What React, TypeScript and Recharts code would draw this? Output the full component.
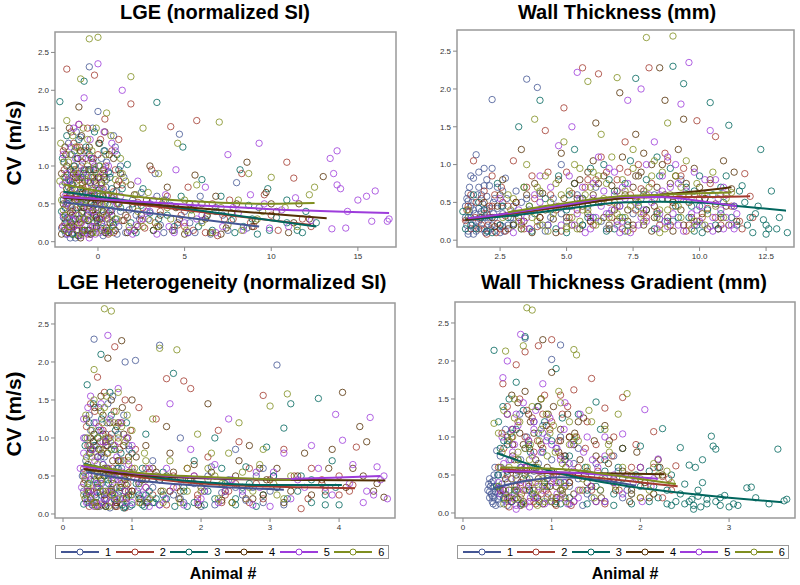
import React from 'react';
import { ComposedChart, Scatter, XAxis, YAxis, ReferenceArea } from 'recharts';

type Pt = [number, number];

// SAS HTMLBlue group colours, animal 1..6
const COLORS = ['#445694', '#A23A2E', '#01665E', '#543005', '#9D3CDB', '#7F8E1F'];
const animals = ['1', '2', '3', '4', '5', '6'];

const yTicks = [0, 0.5, 1, 1.5, 2, 2.5];
const lgeTicks = [0, 5, 10, 15];
const wtTicks = [2.5, 5, 7.5, 10, 12.5];
const hetTicks = [0, 1, 2, 3, 4];
const gradTicks = [0, 1, 2, 3];

// ---- LGE (normalized SI) ----
const lge1: Pt[] = [[-2.1,0.18],[-1.9,0.45],[-1.7,0.82],[-1.5,1.15],[-1.4,0.3],[-1.2,0.62],[-1.0,1.38],[-0.9,0.12],[-0.7,0.95],[-0.5,2.31],[-0.4,0.52],[-0.2,0.25],[0,1.72],[0.1,0.7],[0.3,0.08],[0.5,1.05],[0.6,0.38],[0.8,0.58],[1.0,1.25],[1.2,0.2],[1.5,0.85],[1.8,0.42],[2.1,0.15],[2.5,0.65],[2.9,0.3],[3.3,0.9],[3.8,0.12],[4.2,0.48],[4.7,1.42],[5.3,0.25],[5.9,0.6],[6.5,0.1],[7.2,0.35],[8.0,0.78],[8.6,0.18],[9.3,0.45],[-1.8,0.25],[-1.6,0.6],[-1.1,0.9],[-0.6,0.15],[-0.3,0.68],[0.2,0.42],[0.7,0.9],[1.1,0.1],[-1.3,0.05],[0.4,1.2]];
const lge2: Pt[] = [[-2.0,0.62],[-1.8,2.28],[-1.6,0.2],[-1.4,1.0],[-1.3,0.42],[-1.1,1.55],[-0.9,0.75],[-0.8,0.15],[-0.6,1.2],[-0.4,0.5],[-0.2,2.2],[-0.1,0.9],[0.2,0.3],[0.4,1.62],[0.6,0.1],[0.9,0.66],[1.2,1.35],[1.4,0.28],[1.9,1.82],[2.3,0.52],[2.7,0.18],[3.1,0.95],[3.6,0.4],[4.2,1.52],[4.6,0.22],[5.2,0.72],[5.7,1.6],[6.3,0.34],[6.9,0.08],[7.6,0.55],[8.3,0.9],[8.8,0.25],[9.6,0.62],[10.4,0.15],[10.9,1.05],[11.3,0.84],[11.8,0.3],[12.3,0.2],[-1.9,0.35],[-1.5,0.78],[-1.0,0.25],[-0.5,0.95],[0,0.55],[0.5,0.35],[1.0,0.95],[-1.2,1.25],[-0.7,0.5],[0.3,0.7]];
const lge3: Pt[] = [[-2.2,1.85],[-1.9,0.3],[-1.7,0.72],[-1.5,0.1],[-1.2,1.1],[-1.0,0.5],[-0.8,2.12],[-0.6,0.35],[-0.3,0.85],[-0.1,0.18],[0.1,1.3],[0.3,0.6],[0.6,0.92],[0.9,0.22],[1.3,0.45],[1.7,1.02],[2.2,0.12],[2.6,0.7],[3.0,0.38],[3.4,1.84],[3.9,0.55],[4.4,0.2],[4.9,1.25],[5.4,0.42],[6.0,0.82],[6.6,0.15],[7.1,0.6],[7.7,0.28],[8.2,0.95],[8.7,0.48],[9.2,0.1],[9.8,0.7],[10.3,0.32],[10.9,0.55],[11.5,0.15],[12.0,0.4],[12.6,0.25],[-2.0,0.55],[-1.6,0.95],[-1.3,0.3],[-0.9,0.65],[-0.5,1.15],[0,0.42],[0.4,0.12],[0.8,0.7],[1.1,1.15],[-0.2,0.6]];
const lge4: Pt[] = [[-2.1,0.1],[-1.9,1.25],[-1.7,0.55],[-1.5,0.22],[-1.3,0.85],[-1.1,1.78],[-0.9,0.4],[-0.7,0.65],[-0.5,0.15],[-0.3,1.05],[-0.1,0.32],[0.2,0.78],[0.4,1.45],[0.7,0.25],[1.0,0.55],[1.3,0.9],[1.7,0.12],[2.1,0.62],[2.5,0.35],[3.0,1.0],[3.5,0.2],[4.0,0.72],[4.5,0.45],[5.0,0.1],[5.6,0.88],[6.2,0.3],[6.8,0.6],[7.4,0.18],[8.0,0.5],[8.6,1.05],[9.1,0.28],[9.7,0.65],[10.3,0.4],[11.0,0.12],[11.6,0.5],[12.2,0.3],[13.0,0.86],[-1.8,0.7],[-1.6,0.38],[-1.2,0.15],[-0.8,0.95],[-0.4,0.5],[0,0.85],[0.5,0.18],[0.9,1.1],[-1.0,1.2],[0.3,0.4]];
const lge5: Pt[] = [[-2.0,0.35],[-1.8,0.9],[-1.6,0.15],[-1.4,1.5],[-1.2,0.6],[-1.0,0.08],[-0.8,1.9],[-0.6,0.45],[-0.4,1.1],[-0.2,0.2],[0,2.35],[0.2,0.7],[0.5,0.3],[0.8,1.3],[1.1,0.5],[1.4,2.0],[1.8,0.15],[2.3,0.8],[2.8,0.4],[3.4,0.1],[3.9,0.62],[4.5,0.95],[5.0,0.25],[5.6,0.5],[6.2,0.72],[6.8,0.12],[7.5,1.15],[8.1,0.38],[8.8,0.62],[9.3,1.3],[9.9,0.18],[10.6,0.42],[11.4,0.58],[12.3,0.28],[13.4,1.1],[13.6,0.9],[13.8,0.75],[13.5,0.17],[14.0,0.7],[14.3,0.18],[14.4,0.4],[15.0,0.55],[15.5,0.6],[15.8,0.27],[16.0,0.67],[16.8,0.3],[16.7,0.27],[13.8,1.2],[-1.9,0.6],[-1.5,0.28],[-1.1,0.85],[-0.7,0.3],[-0.3,0.62],[0.1,0.12],[0.4,0.95],[0.9,0.55],[-1.3,1.1],[-0.1,0.45]];
const lge6: Pt[] = [[-2.2,0.8],[-2.0,0.42],[-1.8,1.6],[-1.6,0.25],[-1.4,0.95],[-1.2,0.55],[-1.0,2.15],[-0.8,0.3],[-0.6,1.35],[-0.5,2.68],[-0.3,0.7],[-0.1,0.12],[0.0,2.7],[0.1,1.0],[0.3,0.48],[0.5,1.7],[0.8,0.2],[1.0,0.82],[1.3,1.1],[1.6,0.35],[1.9,2.18],[2.2,0.62],[2.6,1.5],[3.0,0.28],[3.5,0.9],[4.0,0.45],[4.6,1.3],[5.1,0.15],[5.7,0.75],[6.4,0.4],[7.0,1.58],[7.5,0.22],[8.1,0.55],[8.7,0.9],[9.2,0.3],[10.0,0.85],[10.8,0.45],[11.5,0.2],[12.2,0.62],[12.5,0.72],[-1.9,0.15],[-1.5,0.7],[-1.1,0.35],[-0.7,0.9],[-0.4,0.45],[0.2,0.75],[0.6,0.3],[1.2,0.5],[-1.3,1.25],[0.4,0.15]];
// the dense low-CV cloud
const lgeDense1: Pt[] = [[-2.0,0.32],[-1.9,0.78],[-1.85,0.1],[-1.75,0.5],[-1.65,0.2],[-1.55,0.92],[-1.45,0.42],[-1.35,0.7],[-1.25,0.15],[-1.15,0.55],[-1.05,0.3],[-0.95,1.0],[-0.85,0.45],[-0.75,0.22],[-0.65,0.62],[-0.55,0.8],[-0.45,0.1],[-0.35,0.38],[-0.25,1.1],[-0.15,0.5],[-0.05,0.28],[0.05,0.85],[0.15,0.18],[0.25,0.6],[0.35,0.35],[0.45,0.72],[0.55,0.14],[0.65,0.48],[0.85,0.26],[1.05,0.66],[1.3,0.4],[1.6,0.12],[2.0,0.55],[2.4,0.3],[3.0,0.5],[3.6,0.22],[4.4,0.15],[5.0,0.4],[6.0,0.28],[7.5,0.15]];
const lgeDense2: Pt[] = [[-2.05,0.2],[-1.95,0.95],[-1.8,0.48],[-1.7,0.12],[-1.6,0.68],[-1.5,0.35],[-1.4,1.3],[-1.3,0.58],[-1.2,0.22],[-1.1,0.82],[-1.0,0.45],[-0.9,1.05],[-0.8,0.3],[-0.7,0.72],[-0.6,0.1],[-0.5,0.4],[-0.4,0.85],[-0.3,0.2],[-0.2,0.62],[-0.1,0.35],[0.0,1.15],[0.1,0.52],[0.2,0.15],[0.35,0.9],[0.5,0.6],[0.7,0.4],[0.9,0.12],[1.1,0.5],[1.4,0.75],[1.7,0.32],[2.1,0.15],[2.6,0.45],[3.3,0.25],[4.0,0.6],[4.8,0.35],[5.5,0.15],[6.6,0.5],[7.8,0.3],[9.0,0.2],[10.0,0.35]];
const lgeDense3: Pt[] = [[-2.1,0.4],[-1.95,0.15],[-1.85,0.85],[-1.75,0.32],[-1.65,0.58],[-1.55,0.25],[-1.45,0.75],[-1.35,1.2],[-1.25,0.45],[-1.15,0.08],[-1.05,0.65],[-0.95,0.38],[-0.85,0.9],[-0.75,0.15],[-0.65,0.55],[-0.55,0.28],[-0.45,0.78],[-0.35,0.12],[-0.25,0.48],[-0.15,0.95],[-0.05,0.3],[0.05,0.68],[0.2,0.25],[0.4,0.5],[0.6,0.15],[0.8,0.42],[1.0,0.3],[1.4,0.7],[1.9,0.25],[2.5,0.48],[3.2,0.15],[4.0,0.35],[4.8,0.6],[5.8,0.2],[6.8,0.4],[7.9,0.12],[8.9,0.3],[9.9,0.15],[10.9,0.25],[11.8,0.12]];
const lgeDense4: Pt[] = [[-2.0,0.5],[-1.9,0.25],[-1.8,1.0],[-1.7,0.12],[-1.6,0.62],[-1.5,0.4],[-1.4,0.2],[-1.3,0.55],[-1.2,0.85],[-1.1,0.3],[-1.0,0.7],[-0.9,0.15],[-0.8,0.45],[-0.7,1.1],[-0.6,0.28],[-0.5,0.6],[-0.4,0.1],[-0.3,0.42],[-0.2,0.8],[-0.1,0.2],[0.0,0.55],[0.1,0.3],[0.3,0.95],[0.45,0.12],[0.6,0.62],[0.8,0.35],[1.0,0.15],[1.2,0.5],[1.5,0.28],[1.9,0.75],[2.3,0.2],[2.8,0.55],[3.6,0.35],[4.3,0.15],[5.3,0.5],[6.5,0.12],[7.7,0.38],[8.9,0.2],[10.0,0.5],[11.3,0.25]];
const lgeDense5: Pt[] = [[-2.05,0.75],[-1.95,0.2],[-1.85,0.5],[-1.75,0.1],[-1.65,0.8],[-1.55,0.45],[-1.45,0.18],[-1.35,0.7],[-1.25,0.35],[-1.15,0.15],[-1.05,0.55],[-0.95,0.25],[-0.85,0.95],[-0.75,0.12],[-0.65,0.6],[-0.55,0.35],[-0.45,0.78],[-0.35,0.2],[-0.25,0.4],[-0.15,0.1],[-0.05,0.7],[0.05,0.3],[0.15,0.5],[0.3,0.2],[0.45,0.62],[0.6,0.12],[0.75,0.4],[1.0,0.25],[1.3,0.6],[1.6,0.35],[2.0,0.1],[2.6,0.3],[3.2,0.55],[4.1,0.2],[5.2,0.12],[6.0,0.35],[7.2,0.2],[8.4,0.15],[9.6,0.5],[11.0,0.2]];
const lgeDense6: Pt[] = [[-2.1,0.55],[-2.0,1.05],[-1.9,0.35],[-1.8,0.7],[-1.7,0.2],[-1.6,1.15],[-1.5,0.45],[-1.4,0.1],[-1.3,0.62],[-1.2,0.9],[-1.1,0.25],[-1.0,0.5],[-0.9,0.78],[-0.8,0.15],[-0.7,0.55],[-0.6,1.0],[-0.5,0.3],[-0.4,0.65],[-0.3,0.12],[-0.2,0.85],[-0.1,0.45],[0.0,0.25],[0.1,0.6],[0.25,0.38],[0.4,0.8],[0.55,0.5],[0.7,0.12],[0.9,0.6],[1.1,0.3],[1.4,0.9],[1.8,0.2],[2.3,0.4],[2.9,0.65],[3.4,0.2],[4.2,0.3],[5.0,0.55],[6.0,0.25],[7.1,0.45],[8.3,0.15],[9.5,0.4]];
// the upper part of the cloud (CV 0.7 - 1.6)
const lgeBand1: Pt[] = [[-1.95,1.05],[-1.7,1.3],[-1.5,0.75],[-1.25,1.45],[-1.0,0.85],[-0.8,1.2],[-0.55,0.95],[-0.3,1.5],[-0.1,0.78],[0.2,1.1],[0.5,0.82],[0.9,1.4],[1.3,1.0],[2.2,0.35],[3.4,0.6],[4.6,0.25],[5.6,0.12],[6.8,0.45],[-1.6,0.05],[-0.9,0.55]];
const lgeBand2: Pt[] = [[-2.0,1.2],[-1.75,0.88],[-1.55,1.45],[-1.3,0.95],[-1.05,1.25],[-0.85,0.7],[-0.6,1.5],[-0.35,1.1],[-0.15,0.75],[0.15,1.35],[0.45,1.0],[0.8,1.2],[1.2,0.8],[2.5,0.28],[3.7,0.5],[5.0,0.2],[6.2,0.12],[7.3,0.3],[-1.1,0.08],[-0.35,0.6]];
const lgeBand3: Pt[] = [[-2.05,1.1],[-1.8,1.4],[-1.6,0.8],[-1.35,1.0],[-1.1,1.35],[-0.9,0.85],[-0.7,1.25],[-0.45,0.95],[-0.2,1.45],[0.05,1.0],[0.35,1.2],[0.7,0.85],[1.2,0.95],[2.0,0.5],[3.5,0.3],[5.2,0.12],[6.3,0.35],[8.4,0.2],[-1.45,0.1],[-0.6,0.58]];
const lgeBand4: Pt[] = [[-2.1,0.9],[-1.85,1.15],[-1.65,1.5],[-1.4,0.9],[-1.15,1.1],[-0.95,1.4],[-0.75,0.8],[-0.5,1.25],[-0.25,0.95],[0.05,1.3],[0.35,0.85],[0.65,1.15],[1.1,0.75],[2.0,0.45],[3.2,0.15],[4.7,0.3],[6.0,0.5],[7.1,0.1],[-1.0,0.05],[-0.2,0.35]];
const lgeBand5: Pt[] = [[-2.0,1.15],[-1.8,0.8],[-1.55,1.25],[-1.3,0.9],[-1.1,1.55],[-0.9,1.1],[-0.65,0.85],[-0.45,1.35],[-0.2,1.0],[0.1,0.85],[0.35,1.45],[0.6,1.0],[1.0,1.2],[2.2,0.22],[3.0,0.4],[4.4,0.12],[5.7,0.3],[7.8,0.45],[-1.7,0.3],[-0.5,0.05]];
const lgeBand6: Pt[] = [[-2.15,1.3],[-1.95,0.85],[-1.7,1.05],[-1.45,1.4],[-1.25,0.8],[-1.05,1.2],[-0.85,1.5],[-0.6,0.8],[-0.35,1.2],[-0.1,1.5],[0.15,0.9],[0.45,1.15],[0.75,1.4],[1.6,0.8],[2.6,0.2],[3.8,0.55],[5.4,0.35],[6.6,0.12],[-0.95,0.1],[0.3,0.6]];
const lgeFit1: Pt[] = [[-2,0.52],[9.3,0.2]];
const lgeFit2: Pt[] = [[-2,0.61],[12.3,0.22]];
const lgeFit3: Pt[] = [[-2,0.66],[12.6,0.2]];
const lgeFit4: Pt[] = [[-2,0.58],[13.2,0.31]];
const lgeFit5: Pt[] = [[-2,0.59],[5,0.49],[10,0.43],[16.8,0.38]];
const lgeFit6: Pt[] = [[-2,0.76],[2,0.6],[5,0.54],[10,0.5],[12.5,0.51]];

// ---- Wall Thickness (mm) ----
const wt1: Pt[] = [[1.2,0.45],[1.3,0.12],[1.3,0.52],[1.4,0.3],[1.5,0.08],[1.6,1.13],[1.7,0.25],[1.8,0.6],[1.9,0.15],[1.9,0.95],[2.0,0.4],[2.1,0.72],[2.2,1.86],[2.2,0.2],[2.3,0.55],[2.5,0.1],[2.6,0.35],[2.7,0.82],[3.0,0.22],[3.3,0.5],[3.5,2.13],[3.6,0.15],[3.9,2.02],[4.0,0.62],[4.4,0.3],[4.8,1.0],[5.2,0.45],[5.6,0.2],[6.1,0.7],[6.6,0.35],[7.2,0.12],[7.8,0.55],[8.5,0.28],[9.3,0.8],[10.1,0.2],[1.25,0.2],[1.35,0.38],[1.45,0.5],[1.55,0.16],[1.7,0.42],[1.95,0.3],[2.05,0.12],[2.25,0.35],[2.6,0.18]];
const wt2: Pt[] = [[1.2,0.26],[1.4,0.6],[1.5,1.05],[1.7,0.15],[1.9,0.35],[2.0,0.08],[2.2,0.85],[2.4,0.22],[2.6,0.5],[2.7,0.12],[3.0,1.05],[3.2,0.3],[3.5,0.7],[3.9,0.18],[4.2,1.45],[4.6,0.4],[4.9,1.75],[5.2,0.62],[5.6,2.28],[5.9,0.25],[6.2,2.2],[6.5,0.9],[6.9,0.45],[7.2,1.3],[7.5,0.15],[7.8,0.68],[8.1,2.28],[8.4,0.38],[8.8,1.05],[9.2,0.55],[9.6,0.2],[9.9,1.58],[10.3,0.42],[10.6,1.37],[11.0,0.6],[11.5,0.25],[11.9,0.58],[11.7,0.88],[1.8,0.2],[2.1,0.45],[2.5,0.15],[5.8,0.8],[7.0,0.95],[8.0,0.3]];
const wt3: Pt[] = [[1.1,0.38],[1.4,0.2],[1.7,0.5],[2.0,0.12],[2.4,0.75],[2.8,0.3],[3.2,1.5],[3.6,0.45],[4.0,1.85],[4.3,0.2],[4.7,0.85],[5.0,0.1],[5.3,1.2],[5.6,0.55],[6.0,0.3],[6.4,1.0],[6.8,0.15],[7.2,0.75],[7.6,2.14],[8.0,0.4],[8.4,1.1],[8.8,0.25],[9.0,2.3],[9.4,2.07],[9.8,0.65],[10.1,0.1],[10.4,1.82],[10.8,0.35],[11.1,1.52],[11.4,0.2],[11.7,0.5],[12.0,0.1],[12.3,1.2],[12.4,0.27],[12.5,0.08],[12.7,0.65],[12.9,0.15],[13.3,0.1],[11.6,0.72],[12.1,0.35],[10.0,0.45],[10.6,0.2],[11.0,0.85],[9.6,0.3]];
const wt4: Pt[] = [[1.9,0.5],[2.3,0.18],[2.6,0.8],[3.0,0.35],[3.3,1.2],[3.7,0.1],[4.1,0.62],[4.5,0.28],[4.8,1.15],[5.1,0.45],[5.5,0.15],[5.8,0.9],[6.1,1.55],[6.4,0.3],[6.7,0.72],[7.0,1.95],[7.3,0.4],[7.6,1.4],[7.9,0.2],[8.2,1.0],[8.5,2.28],[8.8,0.55],[9.1,0.85],[9.4,1.6],[9.7,0.3],[10.0,0.7],[10.3,0.15],[10.6,0.48],[10.9,1.05],[11.2,0.68],[11.4,0.25],[8.7,1.85],[6.0,0.6],[6.9,0.25],[7.7,0.85],[8.3,0.45],[5.3,0.75],[9.0,0.12]];
const wt5: Pt[] = [[2.5,0.55],[3.0,0.1],[3.5,0.3],[4.0,0.85],[4.3,0.2],[4.7,1.25],[5.0,0.45],[5.2,1.5],[5.4,2.22],[5.6,0.7],[5.9,0.15],[6.2,1.1],[6.5,0.35],[6.8,0.9],[7.0,0.1],[7.3,1.85],[7.6,0.5],[7.8,2.0],[8.0,0.25],[8.3,1.3],[8.5,0.6],[8.8,0.18],[9.1,1.0],[9.3,1.8],[9.6,2.35],[9.9,0.4],[10.2,0.8],[10.5,0.12],[10.7,0.55],[11.0,0.3],[11.3,0.45],[10.4,1.45],[9.5,0.65],[6.0,0.55],[6.6,0.2],[7.1,0.7],[7.9,0.4],[8.6,0.85],[9.8,0.2],[10.9,0.15]];
const wt6: Pt[] = [[1.3,0.4],[2.8,0.6],[3.2,0.25],[3.5,1.0],[3.8,1.6],[4.0,0.4],[4.3,0.12],[4.6,0.75],[4.9,1.3],[5.2,0.3],[5.5,0.95],[5.8,2.1],[6.0,0.5],[6.3,1.4],[6.6,0.2],[6.9,2.15],[7.2,0.65],[7.5,1.2],[7.8,0.35],[8.0,2.68],[8.2,0.85],[8.5,0.1],[8.8,1.55],[9.0,2.7],[9.2,0.45],[9.5,1.05],[9.8,0.25],[10.1,0.62],[10.5,0.9],[10.9,0.3],[11.2,0.63],[3.9,0.7],[4.4,0.5],[5.0,0.18],[5.7,0.6],[6.2,0.85],[7.0,0.3],[7.6,0.55]];
const wtDense1: Pt[] = [[1.2,0.3],[1.25,0.55],[1.3,0.08],[1.35,0.7],[1.4,0.45],[1.45,0.2],[1.5,0.82],[1.55,0.35],[1.6,0.12],[1.65,0.6],[1.7,0.9],[1.75,0.28],[1.8,0.15],[1.85,0.48],[1.9,0.72],[1.95,0.1],[2.0,0.58],[2.05,0.25],[2.1,0.42],[2.15,0.15],[2.2,0.95],[2.25,0.5],[2.3,0.3],[2.4,0.7],[2.5,0.2],[2.55,0.45],[2.65,0.12],[2.75,0.55],[2.9,0.3],[3.1,0.65],[3.3,0.15],[3.6,0.4],[4.0,0.2],[4.5,0.55],[5.0,0.25],[5.8,0.45],[6.5,0.15],[7.5,0.35],[8.3,0.6],[9.0,0.25]];
const wtDense2: Pt[] = [[1.25,0.4],[1.4,0.15],[1.6,0.5],[1.75,0.3],[1.9,0.65],[2.05,0.2],[2.2,0.45],[2.35,0.1],[2.55,0.7],[2.7,0.32],[3.1,0.5],[3.4,0.15],[3.7,0.85],[4.0,0.3],[4.4,0.6],[4.8,0.12],[5.0,0.9],[5.4,0.4],[5.7,0.7],[6.0,0.2],[6.3,1.1],[6.6,0.5],[6.9,0.8],[7.1,0.15],[7.4,0.6],[7.7,1.0],[7.9,0.35],[8.2,0.75],[8.5,0.2],[8.7,1.15],[9.0,0.45],[9.3,0.85],[9.5,0.12],[9.8,0.6],[10.1,0.3],[10.4,0.75],[10.8,0.2],[11.2,0.45],[11.6,0.15],[12.0,0.3]];
const wtDense3: Pt[] = [[1.2,0.15],[1.5,0.6],[1.8,0.3],[2.2,0.1],[2.6,0.45],[3.0,0.2],[3.4,0.7],[3.8,0.35],[4.2,0.55],[4.6,0.15],[5.0,0.4],[5.3,0.75],[5.6,0.2],[5.9,0.95],[6.2,0.5],[6.5,0.12],[6.8,0.65],[7.1,0.3],[7.4,1.05],[7.7,0.45],[8.0,0.8],[8.3,0.15],[8.6,0.55],[8.9,0.95],[9.2,0.3],[9.5,0.7],[9.8,0.12],[10.0,0.85],[10.3,0.4],[10.5,0.6],[10.7,0.15],[10.9,0.5],[11.2,0.3],[11.5,0.65],[11.8,0.2],[12.2,0.45],[12.6,0.15],[13.0,0.3],[9.7,0.45],[8.4,0.35]];
const wtDense4: Pt[] = [[2.2,0.3],[2.5,0.6],[2.8,0.15],[3.1,0.5],[3.4,0.25],[3.8,0.75],[4.2,0.4],[4.6,0.1],[4.9,0.55],[5.2,0.2],[5.5,0.8],[5.8,0.35],[6.0,1.05],[6.3,0.5],[6.6,0.15],[6.9,0.65],[7.1,1.1],[7.3,0.25],[7.6,0.55],[7.8,0.9],[8.0,0.4],[8.2,0.12],[8.4,0.7],[8.6,1.0],[8.8,0.3],[9.0,0.5],[9.2,1.2],[9.4,0.2],[9.6,0.6],[9.8,0.95],[10.1,0.35],[10.4,0.8],[10.7,0.15],[11.0,0.45],[11.3,0.9],[7.5,0.7],[6.4,0.85],[5.6,0.45],[8.9,0.75],[9.9,0.25]];
const wtDense5: Pt[] = [[3.2,0.4],[3.6,0.15],[4.0,0.5],[4.4,0.7],[4.8,0.2],[5.1,0.85],[5.4,0.35],[5.7,0.1],[6.0,0.75],[6.3,0.45],[6.6,0.95],[6.9,0.2],[7.2,0.55],[7.4,0.1],[7.6,0.85],[7.8,0.3],[8.0,1.0],[8.2,0.5],[8.4,0.15],[8.6,0.65],[8.8,1.1],[9.0,0.35],[9.2,0.75],[9.4,0.12],[9.6,0.5],[9.8,0.9],[10.0,0.25],[10.2,0.6],[10.4,0.18],[10.6,0.8],[10.8,0.4],[11.0,0.6],[11.2,0.2],[11.4,0.35],[7.0,0.45],[7.9,0.65],[8.7,0.25],[9.3,0.55],[6.8,0.6],[5.9,0.3]];
const wtDense6: Pt[] = [[2.6,0.3],[3.0,0.55],[3.3,0.15],[3.6,0.45],[3.9,0.25],[4.2,0.85],[4.5,0.35],[4.8,0.6],[5.0,0.15],[5.3,1.0],[5.6,0.4],[5.9,0.7],[6.1,0.2],[6.4,0.55],[6.7,1.1],[6.9,0.35],[7.1,0.8],[7.3,0.12],[7.5,0.95],[7.7,0.5],[7.9,0.25],[8.1,0.7],[8.3,1.05],[8.5,0.4],[8.7,0.15],[8.9,0.6],[9.1,0.85],[9.3,0.3],[9.6,0.5],[9.9,0.75],[10.2,0.2],[10.6,0.45],[11.0,0.55],[6.0,0.9],[6.6,0.3],[7.4,0.45],[8.0,0.6],[8.6,0.9],[5.5,0.25],[4.0,0.65]];
const wtBand1: Pt[] = [[1.3,0.62],[1.4,0.85],[1.5,0.4],[1.6,0.25],[1.7,0.7],[1.8,0.38],[2.0,0.8],[2.1,0.3],[2.3,0.12],[2.4,0.42],[2.6,0.65],[2.8,0.2],[3.0,0.45],[3.2,0.3],[3.5,0.55],[4.2,0.12],[4.8,0.35],[5.4,0.6],[6.3,0.25],[7.0,0.45]];
const wtBand2: Pt[] = [[1.3,0.45],[1.55,0.3],[1.8,0.55],[2.0,0.35],[2.3,0.6],[2.8,0.45],[3.3,0.2],[3.8,0.55],[4.3,0.9],[5.1,0.3],[5.6,0.55],[6.1,0.8],[6.7,0.3],[7.3,0.9],[7.6,0.4],[8.3,0.55],[8.9,0.2],[9.4,0.95],[10.0,0.55],[10.6,0.3]];
const wtBand3: Pt[] = [[1.3,0.3],[1.6,0.15],[1.9,0.4],[2.5,0.2],[3.1,0.35],[3.7,0.12],[4.4,0.4],[5.1,0.6],[5.8,0.3],[6.6,0.8],[7.3,0.2],[7.9,0.6],[8.5,0.85],[9.1,0.45],[9.9,0.2],[10.2,0.55],[10.8,0.7],[11.3,0.45],[11.9,0.3],[12.5,0.2]];
const wtBand4: Pt[] = [[2.4,0.45],[3.0,0.2],[3.5,0.6],[4.0,0.3],[4.7,0.8],[5.0,0.3],[5.4,0.55],[5.9,0.25],[6.2,0.75],[6.8,0.4],[7.2,0.6],[7.5,0.2],[7.9,1.15],[8.3,0.3],[8.7,0.6],[9.3,0.4],[9.5,0.75],[10.2,0.55],[10.8,0.3],[11.1,0.2]];
const wtBand5: Pt[] = [[3.3,0.25],[3.8,0.6],[4.6,0.45],[5.3,0.2],[5.5,0.55],[6.1,0.3],[6.4,0.65],[6.7,0.4],[7.1,0.25],[7.3,0.75],[7.7,0.2],[8.1,0.6],[8.5,0.35],[8.9,0.7],[9.2,0.2],[9.7,0.35],[10.1,0.45],[10.5,0.3],[10.9,0.7],[11.3,0.15]];
const wtBand6: Pt[] = [[2.9,0.4],[3.4,0.7],[3.7,0.3],[4.1,0.2],[4.7,0.45],[5.1,0.65],[5.4,0.15],[5.8,0.4],[6.2,0.25],[6.5,0.75],[6.8,0.5],[7.2,0.3],[7.6,0.85],[7.9,0.65],[8.4,0.3],[8.8,0.4],[9.3,0.7],[9.7,0.15],[10.3,0.35],[10.8,0.6]];
const wtFit1: Pt[] = [[1.2,0.27],[2.5,0.33],[4,0.4]];
const wtFit2: Pt[] = [[1.1,0.26],[2.5,0.33],[4,0.4],[5.5,0.48],[7,0.55],[8.5,0.57],[10,0.57],[11.9,0.58]];
const wtFit3: Pt[] = [[1.2,0.27],[2.5,0.31],[4,0.37],[5.5,0.44],[7,0.5],[8.5,0.51],[10,0.5],[11.5,0.45],[13.25,0.39]];
const wtFit4: Pt[] = [[1.2,0.27],[2.5,0.34],[4,0.41],[5.5,0.48],[7,0.55],[8.5,0.6],[10,0.65],[11.2,0.7]];
const wtFit5: Pt[] = [[1.3,0.29],[2.5,0.34],[4,0.42],[5.5,0.5],[7,0.57],[8.5,0.57],[10,0.52],[11.4,0.45]];
const wtFit6: Pt[] = [[2.8,0.37],[4,0.44],[5.5,0.52],[7,0.58],[8.5,0.6],[10,0.62],[11.2,0.63]];

// ---- LGE Heterogeneity (normalized SI) ----
const het1: Pt[] = [[0.28,0.5],[0.35,0.2],[0.4,1.1],[0.45,2.3],[0.5,0.35],[0.55,0.75],[0.6,0.12],[0.65,1.45],[0.7,0.55],[0.8,0.25],[0.9,2.0],[0.95,0.9],[1.05,2.02],[1.1,0.4],[1.2,0.15],[1.3,0.7],[1.4,2.22],[1.55,0.3],[1.7,1.0],[1.85,0.45],[2.0,0.1],[2.15,0.62],[2.3,0.28],[2.5,0.85],[2.65,0.18],[2.8,0.5],[3.0,0.3],[3.1,1.96],[3.2,0.12],[0.38,0.6],[0.48,0.9],[0.58,0.3],[0.68,1.0],[0.75,0.18],[0.85,0.6]];
const het2: Pt[] = [[0.3,0.6],[0.4,1.45],[0.45,0.15],[0.5,1.8],[0.55,0.45],[0.62,0.9],[0.7,0.25],[0.75,2.2],[0.85,1.2],[0.9,0.08],[1.0,0.6],[1.1,1.4],[1.2,0.35],[1.35,1.25],[1.5,1.78],[1.6,0.5],[1.75,1.75],[1.85,1.65],[1.95,0.2],[2.1,0.75],[2.25,1.1],[2.4,0.3],[2.55,0.95],[2.7,0.15],[2.9,1.56],[3.0,0.45],[3.2,0.85],[3.45,0.07],[3.6,0.6],[3.8,0.3],[4.0,0.5],[4.2,0.38],[4.25,0.88],[0.35,0.3],[0.58,1.1],[0.65,0.55],[0.8,0.7],[0.95,0.3]];
const het3: Pt[] = [[0.3,0.13],[0.35,1.7],[0.45,0.9],[0.5,0.4],[0.55,2.1],[0.6,0.2],[0.7,1.3],[0.8,0.6],[0.9,0.1],[1.0,0.8],[1.1,0.25],[1.2,1.05],[1.3,0.15],[1.45,0.55],[1.6,1.85],[1.75,0.3],[1.9,0.7],[2.05,0.12],[2.2,1.0],[2.35,0.4],[2.5,0.2],[2.65,0.62],[2.8,0.1],[2.95,0.88],[3.1,0.35],[3.2,1.13],[3.3,1.45],[3.45,0.5],[3.6,0.15],[3.7,1.52],[3.8,0.25],[3.9,0.7],[4.0,0.12],[0.4,0.6],[0.52,1.1],[0.65,0.45],[0.75,0.85],[1.15,0.12],[1.35,0.2]];
const het4: Pt[] = [[0.3,0.4],[0.4,0.85],[0.45,1.05],[0.5,0.1],[0.55,1.55],[0.6,0.6],[0.65,2.05],[0.7,0.3],[0.8,1.2],[0.85,2.28],[0.9,0.45],[0.95,0.75],[1.0,1.5],[1.1,0.2],[1.2,0.9],[1.35,0.55],[1.5,1.15],[1.7,0.3],[1.9,0.65],[2.1,1.45],[2.3,0.18],[2.5,0.5],[2.7,0.9],[2.9,0.25],[3.1,0.6],[3.3,0.3],[3.5,0.8],[3.75,0.4],[3.9,0.85],[4.05,1.6],[4.2,0.6],[4.4,0.95],[4.5,0.3],[4.65,0.22],[4.3,1.15],[0.62,0.95],[0.72,0.7],[0.78,0.15],[0.88,1.05]];
const het5: Pt[] = [[0.25,0.6],[0.3,1.25],[0.35,0.3],[0.4,1.55],[0.45,0.1],[0.5,0.75],[0.55,1.1],[0.6,0.2],[0.65,2.35],[0.7,0.5],[0.8,1.65],[0.9,0.15],[1.0,0.9],[1.1,0.35],[1.25,0.6],[1.4,0.12],[1.55,1.45],[1.7,0.45],[1.85,0.85],[2.0,0.2],[2.2,0.65],[2.4,1.25],[2.6,0.3],[2.8,0.55],[3.0,0.1],[3.2,0.8],[3.4,0.45],[3.6,0.9],[3.8,0.35],[3.95,1.31],[4.05,0.97],[4.2,0.65],[4.35,0.15],[4.45,1.27],[4.55,0.62],[4.6,0.45],[4.7,0.2],[4.4,0.3],[0.38,0.9],[0.48,0.4],[0.58,0.65],[0.75,0.25],[0.85,0.45]];
const het6: Pt[] = [[0.3,0.5],[0.35,1.0],[0.4,0.2],[0.45,1.9],[0.5,0.65],[0.55,1.35],[0.6,2.7],[0.65,0.3],[0.7,2.67],[0.75,0.85],[0.8,1.6],[0.9,0.4],[1.0,1.1],[1.1,0.15],[1.2,0.7],[1.3,1.25],[1.4,2.18],[1.5,0.5],[1.65,2.16],[1.8,0.3],[1.95,1.05],[2.1,0.6],[2.25,0.2],[2.4,0.8],[2.55,1.2],[2.7,0.35],[2.85,0.65],[3.0,1.42],[3.1,0.25],[3.25,1.58],[3.3,0.5],[0.42,0.75],[0.52,0.35],[0.62,1.0],[0.68,0.55],[0.78,0.2],[0.95,0.7]];
const hetDense1: Pt[] = [[0.3,0.3],[0.33,0.7],[0.36,0.15],[0.4,0.45],[0.43,0.85],[0.46,0.25],[0.5,0.55],[0.53,0.1],[0.56,0.4],[0.6,0.75],[0.63,0.2],[0.66,0.5],[0.7,0.32],[0.73,0.9],[0.76,0.12],[0.8,0.45],[0.84,0.7],[0.88,0.2],[0.92,0.38],[0.97,0.1],[1.02,0.55],[1.08,0.3],[1.15,0.45],[1.22,0.2],[1.3,0.35],[1.4,0.12],[1.5,0.5],[1.6,0.25],[1.75,0.15],[1.9,0.4],[2.05,0.3],[2.2,0.12],[2.4,0.45],[2.6,0.25],[2.75,0.35],[2.9,0.15],[3.05,0.5],[0.45,1.2],[0.62,1.05],[0.78,0.6]];
const hetDense2: Pt[] = [[0.32,0.45],[0.36,0.9],[0.4,0.2],[0.44,0.6],[0.48,0.35],[0.52,1.15],[0.56,0.12],[0.6,0.5],[0.64,0.8],[0.68,0.3],[0.72,0.6],[0.76,0.15],[0.8,0.95],[0.84,0.4],[0.88,0.7],[0.92,0.22],[0.96,0.5],[1.0,0.3],[1.05,0.85],[1.12,0.15],[1.2,0.6],[1.3,0.25],[1.4,0.45],[1.5,0.12],[1.65,0.35],[1.8,0.6],[1.95,0.25],[2.1,0.45],[2.3,0.15],[2.5,0.4],[2.7,0.6],[2.9,0.2],[3.1,0.35],[3.35,0.5],[3.55,0.2],[3.75,0.45],[4.0,0.25],[4.15,0.3],[0.5,0.75],[0.7,1.05]];
const hetDense3: Pt[] = [[0.3,0.55],[0.34,0.25],[0.38,0.8],[0.42,0.12],[0.46,0.45],[0.5,1.0],[0.54,0.3],[0.58,0.65],[0.62,0.1],[0.66,0.4],[0.7,0.85],[0.74,0.2],[0.78,0.55],[0.82,0.3],[0.86,0.12],[0.9,0.5],[0.95,0.25],[1.0,0.12],[1.06,0.4],[1.12,0.2],[1.18,0.1],[1.25,0.3],[1.32,0.15],[1.4,0.45],[1.5,0.2],[1.62,0.1],[1.75,0.35],[1.9,0.15],[2.1,0.3],[2.3,0.6],[2.5,0.12],[2.7,0.4],[2.9,0.25],[3.05,0.5],[3.25,0.2],[3.4,0.3],[3.6,0.45],[3.8,0.12],[3.95,0.35],[1.2,0.25]];
const hetDense4: Pt[] = [[0.32,0.2],[0.36,0.65],[0.4,0.3],[0.44,0.95],[0.48,0.15],[0.52,0.5],[0.56,0.8],[0.6,0.25],[0.64,0.6],[0.68,1.2],[0.72,0.4],[0.76,0.1],[0.8,0.7],[0.84,0.35],[0.88,0.9],[0.92,0.2],[0.96,0.55],[1.0,0.3],[1.06,0.75],[1.14,0.45],[1.22,0.15],[1.3,0.6],[1.42,0.3],[1.55,0.8],[1.68,0.2],[1.82,0.45],[1.96,0.12],[2.15,0.55],[2.35,0.3],[2.55,0.7],[2.75,0.2],[2.95,0.45],[3.2,0.15],[3.4,0.5],[3.6,0.25],[3.85,0.6],[4.1,0.35],[4.35,0.5],[4.55,0.4],[0.58,1.05]];
const hetDense5: Pt[] = [[0.27,0.35],[0.3,0.8],[0.34,0.15],[0.38,0.5],[0.42,0.25],[0.46,0.7],[0.5,0.12],[0.54,0.4],[0.58,0.95],[0.62,0.3],[0.66,0.6],[0.7,0.15],[0.74,0.45],[0.78,0.75],[0.82,0.2],[0.86,0.55],[0.9,0.3],[0.95,0.65],[1.0,0.15],[1.08,0.45],[1.16,0.25],[1.25,0.1],[1.35,0.5],[1.48,0.2],[1.6,0.35],[1.75,0.12],[1.9,0.5],[2.05,0.3],[2.25,0.15],[2.45,0.45],[2.65,0.2],[2.85,0.35],[3.05,0.55],[3.3,0.2],[3.5,0.35],[3.7,0.6],[3.9,0.25],[4.15,0.4],[4.5,0.25],[4.65,0.5]];
const hetDense6: Pt[] = [[0.3,0.25],[0.34,0.75],[0.38,0.4],[0.42,1.1],[0.46,0.15],[0.5,0.5],[0.54,0.85],[0.58,0.3],[0.62,0.6],[0.66,0.1],[0.7,0.45],[0.74,1.2],[0.78,0.35],[0.82,0.7],[0.86,0.2],[0.9,0.95],[0.94,0.5],[0.98,0.25],[1.04,0.6],[1.1,0.4],[1.18,0.8],[1.26,0.2],[1.35,0.5],[1.45,0.3],[1.55,0.7],[1.7,0.15],[1.85,0.45],[2.0,0.3],[2.15,0.8],[2.3,0.4],[2.45,0.15],[2.6,0.55],[2.75,0.3],[2.9,0.85],[3.05,0.4],[3.2,0.2],[0.6,1.4],[0.8,1.0],[0.45,0.6],[0.65,0.8]];
const hetBand1: Pt[] = [[0.32,1.0],[0.38,1.3],[0.44,0.95],[0.52,1.4],[0.58,0.85],[0.64,1.2],[0.72,1.55],[0.8,1.05],[0.88,1.3],[0.96,0.85],[1.3,0.45],[1.7,0.2],[2.1,0.5],[2.5,0.35],[2.9,0.6],[0.42,0.15],[0.55,0.25],[0.68,0.08],[0.82,0.35],[1.0,0.25]];
const hetBand2: Pt[] = [[0.34,1.15],[0.4,0.8],[0.46,1.35],[0.54,0.95],[0.6,1.6],[0.66,1.0],[0.74,1.35],[0.82,0.85],[0.9,1.5],[0.98,1.1],[1.25,0.55],[1.55,0.3],[1.9,0.5],[2.35,0.25],[2.8,0.4],[0.38,0.1],[0.5,0.28],[0.62,0.18],[0.78,0.1],[0.94,0.4]];
const hetBand3: Pt[] = [[0.32,0.9],[0.38,1.2],[0.44,1.45],[0.5,0.75],[0.56,1.25],[0.62,0.95],[0.68,1.6],[0.76,1.1],[0.84,0.8],[0.92,1.2],[1.15,0.6],[1.45,0.25],[1.8,0.1],[2.2,0.2],[2.6,0.35],[0.36,0.4],[0.48,0.22],[0.6,0.5],[0.72,0.28],[0.88,0.08]];
const hetBand4: Pt[] = [[0.34,1.25],[0.4,1.0],[0.46,1.4],[0.52,0.85],[0.58,1.3],[0.64,0.9],[0.7,1.5],[0.78,1.15],[0.86,1.4],[0.94,1.0],[1.2,0.45],[1.6,0.55],[2.0,0.35],[2.45,0.15],[2.85,0.6],[0.37,0.3],[0.45,0.5],[0.62,0.1],[0.74,0.55],[0.9,0.3]];
const hetBand5: Pt[] = [[0.3,1.0],[0.36,1.4],[0.42,0.85],[0.48,1.2],[0.55,1.45],[0.62,0.95],[0.68,1.25],[0.75,0.9],[0.83,1.2],[0.92,1.0],[1.2,0.35],[1.5,0.6],[1.95,0.15],[2.35,0.3],[2.75,0.12],[0.33,0.5],[0.45,0.3],[0.57,0.15],[0.7,0.35],[0.8,0.5]];
const hetBand6: Pt[] = [[0.33,1.3],[0.39,0.9],[0.45,1.5],[0.51,1.0],[0.57,1.2],[0.63,1.55],[0.69,0.95],[0.77,1.35],[0.85,1.15],[0.93,1.3],[1.15,0.5],[1.45,0.15],[1.8,0.6],[2.2,0.5],[2.65,0.2],[0.36,0.35],[0.48,0.1],[0.56,0.45],[0.72,0.25],[0.84,0.5]];
const hetFit1: Pt[] = [[0.35,0.55],[1,0.45],[2,0.37],[3.2,0.32]];
const hetFit2: Pt[] = [[0.3,0.6],[1,0.5],[2,0.4],[3,0.36],[4.23,0.34]];
const hetFit3: Pt[] = [[0.3,0.66],[1.2,0.5],[2,0.42],[3,0.38],[4.04,0.38]];
const hetFit4: Pt[] = [[0.3,0.59],[1,0.52],[2,0.47],[3,0.45],[4.67,0.44]];
const hetFit5: Pt[] = [[0.27,0.63],[1,0.54],[2,0.48],[3,0.46],[4,0.48],[4.6,0.5]];
const hetFit6: Pt[] = [[0.3,0.65],[1,0.55],[2,0.49],[3.3,0.45]];

// ---- Wall Thickness Gradient (mm) ----
const grad1: Pt[] = [[0.3,0.28],[0.32,0.4],[0.35,0.2],[0.38,0.82],[0.4,0.33],[0.42,0.12],[0.45,0.5],[0.48,0.25],[0.5,0.95],[0.55,0.15],[0.6,0.45],[0.65,0.7],[0.7,2.3],[0.75,0.3],[0.8,1.2],[0.88,0.55],[0.95,0.2],[1.0,2.02],[1.05,0.85],[1.1,2.21],[1.15,0.4],[1.25,0.65],[1.35,0.1],[1.45,0.5],[1.55,0.3],[1.7,0.75],[1.8,0.2],[1.95,0.45],[0.35,0.35],[0.4,0.28],[0.33,0.22],[0.44,0.38],[0.52,0.3],[0.62,0.18]];
const grad2: Pt[] = [[0.4,0.6],[0.45,1.7],[0.5,0.2],[0.55,1.0],[0.6,1.95],[0.65,0.4],[0.7,2.12],[0.75,0.15],[0.8,0.8],[0.85,2.2],[0.9,1.3],[0.95,0.5],[1.0,2.28],[1.05,0.1],[1.1,1.55],[1.15,0.7],[1.25,1.62],[1.35,0.3],[1.45,1.77],[1.5,0.9],[1.6,1.38],[1.7,0.4],[1.8,1.52],[1.9,0.6],[2.0,0.2],[2.15,1.07],[2.25,0.48],[2.35,0.3],[2.4,0.62],[0.58,0.35],[0.72,0.6],[0.88,0.25],[1.2,0.4]];
const grad3: Pt[] = [[0.35,2.14],[0.4,0.5],[0.45,1.4],[0.5,0.9],[0.55,0.15],[0.6,1.72],[0.65,0.6],[0.7,2.32],[0.75,0.3],[0.85,1.05],[0.95,0.45],[1.05,1.9],[1.1,0.12],[1.2,0.75],[1.3,1.3],[1.4,0.3],[1.5,1.46],[1.6,0.55],[1.7,0.1],[1.8,0.85],[1.9,0.25],[2.0,0.88],[2.1,0.15],[2.2,0.6],[2.25,1.11],[2.35,0.1],[2.45,0.86],[2.5,0.38],[2.55,0.63],[2.6,0.05],[2.62,0.6],[2.7,0.4],[2.75,0.18],[2.8,1.01],[2.82,0.88],[2.85,0.84],[2.9,0.1],[2.95,0.23],[3.0,0.08],[3.05,0.12],[3.2,0.33],[3.25,0.34],[3.45,0.12],[3.55,0.84],[3.62,0.16],[3.65,0.18],[2.6,0.1],[2.7,0.7],[2.4,0.15],[2.3,0.3]];
const grad4: Pt[] = [[0.45,0.3],[0.5,1.0],[0.55,1.55],[0.6,0.5],[0.65,0.1],[0.7,1.6],[0.75,0.85],[0.8,0.3],[0.85,1.4],[0.9,2.28],[0.95,0.6],[1.0,1.85],[1.05,0.2],[1.1,1.1],[1.15,0.75],[1.2,0.4],[1.3,1.2],[1.4,0.55],[1.5,0.15],[1.6,1.15],[1.7,0.45],[1.8,0.85],[1.9,0.3],[2.0,0.6],[2.1,0.2],[2.2,0.7],[2.25,0.5],[0.68,0.45],[0.82,0.7],[0.98,0.35],[1.25,0.9]];
const grad5: Pt[] = [[0.4,0.4],[0.45,1.78],[0.5,2.0],[0.55,0.2],[0.6,1.3],[0.65,2.35],[0.7,0.6],[0.75,0.08],[0.8,1.1],[0.85,0.35],[0.9,1.7],[0.95,0.5],[1.0,0.9],[1.1,0.2],[1.15,1.45],[1.2,0.65],[1.3,0.3],[1.4,1.0],[1.5,0.15],[1.6,0.75],[1.7,0.4],[1.8,1.04],[1.9,0.25],[2.0,0.6],[2.05,1.36],[2.15,0.45],[2.2,0.71],[0.6,0.05],[0.52,0.7],[0.72,0.3],[0.88,0.8],[1.05,0.4],[1.25,0.15]];
const grad6: Pt[] = [[0.35,1.18],[0.42,0.6],[0.48,2.13],[0.52,0.3],[0.58,1.25],[0.62,0.8],[0.68,2.2],[0.72,2.7],[0.78,2.67],[0.82,0.4],[0.88,1.5],[0.92,0.15],[0.98,1.05],[1.02,0.55],[1.08,1.6],[1.12,0.25],[1.2,0.9],[1.25,2.15],[1.28,2.08],[1.35,0.45],[1.45,1.2],[1.55,0.3],[1.65,0.8],[1.75,1.3],[1.85,1.57],[1.9,0.5],[2.0,0.2],[2.15,0.65],[2.3,0.55],[2.35,0.4],[0.55,0.45],[0.65,0.2],[0.75,0.7],[0.85,0.3],[0.95,0.75],[1.15,0.35]];
const gradDense1: Pt[] = [[0.28,0.3],[0.3,0.2],[0.31,0.35],[0.33,0.15],[0.34,0.42],[0.36,0.28],[0.37,0.1],[0.39,0.5],[0.41,0.22],[0.43,0.6],[0.46,0.18],[0.5,0.4],[0.54,0.7],[0.58,0.25],[0.62,0.55],[0.66,0.12],[0.7,0.85],[0.75,0.45],[0.8,0.2],[0.85,0.65],[0.9,0.35],[0.95,1.0],[1.0,0.15],[1.05,0.5],[1.1,0.3],[1.15,0.75],[1.2,0.12],[1.3,0.45],[1.4,0.25],[1.5,0.65],[1.6,0.15],[1.7,0.4],[1.85,0.3],[0.32,0.25],[0.38,0.32],[0.45,0.3],[0.35,0.5],[0.29,0.38]];
const gradDense2: Pt[] = [[0.42,0.3],[0.46,0.85],[0.5,0.5],[0.54,0.15],[0.58,0.7],[0.62,1.2],[0.66,0.25],[0.7,0.6],[0.74,0.95],[0.78,0.4],[0.82,0.12],[0.86,0.55],[0.9,0.85],[0.94,0.3],[0.98,1.1],[1.02,0.45],[1.06,0.2],[1.1,0.75],[1.15,0.35],[1.2,1.0],[1.25,0.15],[1.3,0.6],[1.38,0.85],[1.45,0.3],[1.52,0.55],[1.6,0.12],[1.68,0.75],[1.76,0.3],[1.85,0.5],[1.95,0.9],[2.05,0.35],[2.15,0.6],[2.25,0.2],[2.32,0.45],[0.72,1.35],[1.12,1.3]];
const gradDense3: Pt[] = [[0.38,0.35],[0.42,0.85],[0.46,0.2],[0.5,0.55],[0.54,1.05],[0.58,0.3],[0.62,0.7],[0.66,0.12],[0.7,0.5],[0.74,0.9],[0.78,0.25],[0.82,0.6],[0.86,0.15],[0.9,0.8],[0.95,0.35],[1.0,0.55],[1.05,0.15],[1.1,0.4],[1.15,0.7],[1.2,0.2],[1.3,0.5],[1.4,0.12],[1.5,0.35],[1.6,0.7],[1.7,0.25],[1.8,0.45],[1.9,0.12],[2.0,0.35],[2.1,0.55],[2.2,0.2],[2.3,0.12],[2.45,0.25],[2.55,0.15],[2.65,0.3],[2.75,0.12],[2.9,0.2],[3.1,0.1],[3.3,0.2],[2.58,0.18],[2.68,0.08]];
const gradDense4: Pt[] = [[0.48,0.45],[0.52,0.2],[0.56,0.75],[0.6,0.35],[0.64,1.05],[0.68,0.15],[0.72,0.55],[0.76,1.2],[0.8,0.6],[0.84,0.2],[0.88,0.9],[0.92,0.4],[0.96,1.3],[1.0,0.55],[1.04,0.12],[1.08,0.8],[1.12,0.3],[1.16,0.6],[1.2,1.0],[1.25,0.25],[1.32,0.7],[1.4,0.4],[1.48,0.95],[1.56,0.2],[1.64,0.65],[1.72,0.3],[1.8,0.55],[1.88,0.15],[1.96,0.8],[2.05,0.4],[2.15,0.25],[2.22,0.6],[0.85,0.45],[1.05,0.35],[1.3,0.5]];
const gradDense5: Pt[] = [[0.42,0.25],[0.46,0.65],[0.5,0.15],[0.54,0.45],[0.58,0.9],[0.62,0.3],[0.66,0.6],[0.7,0.12],[0.74,0.4],[0.78,0.75],[0.82,0.2],[0.86,0.55],[0.9,0.3],[0.94,0.95],[0.98,0.15],[1.02,0.5],[1.06,0.25],[1.1,0.7],[1.14,0.4],[1.18,0.12],[1.24,0.55],[1.3,0.2],[1.36,0.8],[1.44,0.35],[1.52,0.6],[1.6,0.15],[1.7,0.5],[1.8,0.25],[1.92,0.4],[2.02,0.15],[2.12,0.35],[0.55,1.1],[0.8,1.2],[0.65,0.35],[1.0,0.4]];
const gradDense6: Pt[] = [[0.4,0.35],[0.44,0.8],[0.48,0.2],[0.52,0.6],[0.56,1.0],[0.6,0.3],[0.64,0.55],[0.68,0.12],[0.72,0.45],[0.76,0.9],[0.8,0.25],[0.84,0.6],[0.88,1.1],[0.92,0.35],[0.96,0.5],[1.0,0.2],[1.04,0.8],[1.08,0.4],[1.12,0.65],[1.16,0.15],[1.2,0.5],[1.26,1.0],[1.32,0.3],[1.4,0.6],[1.48,0.2],[1.56,0.45],[1.64,0.9],[1.72,0.35],[1.8,0.6],[1.9,0.25],[2.0,0.45],[2.1,0.3],[2.2,0.5],[0.62,0.7],[0.9,0.45],[1.1,0.3]];
const gradBand1: Pt[] = [[0.36,0.6],[0.42,0.75],[0.48,1.1],[0.56,0.9],[0.64,1.3],[0.72,1.0],[0.8,0.55],[0.9,1.15],[1.0,0.7],[1.1,1.0],[1.2,0.35],[1.3,0.85],[1.45,0.2],[1.6,0.45],[1.75,0.55],[0.3,0.45],[0.34,0.12],[0.4,0.18],[0.5,0.1],[0.6,0.3]];
const gradBand2: Pt[] = [[0.44,1.05],[0.5,1.4],[0.56,0.9],[0.64,1.5],[0.7,1.0],[0.78,1.25],[0.84,0.95],[0.92,1.55],[1.0,1.2],[1.08,0.95],[1.18,1.4],[1.28,1.0],[1.4,1.2],[1.55,0.7],[1.7,1.0],[0.52,0.08],[0.68,0.3],[0.8,0.15],[0.96,0.25],[1.22,0.1]];
const gradBand3: Pt[] = [[0.4,1.2],[0.46,0.95],[0.52,1.5],[0.6,1.1],[0.68,1.35],[0.76,0.8],[0.84,1.4],[0.92,1.2],[1.0,0.95],[1.12,1.25],[1.25,0.95],[1.38,0.6],[1.55,1.1],[1.75,0.6],[1.95,0.5],[2.15,0.35],[2.35,0.5],[2.5,0.12],[2.65,0.22],[2.85,0.15]];
const gradBand4: Pt[] = [[0.5,1.3],[0.56,1.1],[0.62,1.45],[0.68,0.9],[0.74,1.3],[0.8,1.05],[0.88,1.5],[0.94,1.15],[1.02,1.4],[1.1,0.95],[1.18,1.3],[1.26,1.05],[1.36,1.25],[1.5,0.75],[1.65,0.95],[0.6,0.2],[0.74,0.35],[0.9,0.12],[1.15,0.2],[1.45,0.35]];
const gradBand5: Pt[] = [[0.44,1.0],[0.5,1.3],[0.56,0.8],[0.62,1.15],[0.68,1.45],[0.74,0.95],[0.82,1.35],[0.9,1.05],[0.98,1.25],[1.06,0.85],[1.14,1.1],[1.22,0.9],[1.32,1.3],[1.46,0.7],[1.6,1.0],[0.48,0.3],[0.6,0.1],[0.76,0.2],[0.92,0.12],[1.12,0.25]];
const gradBand6: Pt[] = [[0.4,1.05],[0.46,1.35],[0.52,0.95],[0.58,1.5],[0.64,1.2],[0.7,0.85],[0.78,1.4],[0.86,0.95],[0.94,1.3],[1.02,1.15],[1.1,1.45],[1.2,1.2],[1.3,0.95],[1.42,1.35],[1.6,1.1],[0.46,0.12],[0.58,0.18],[0.7,0.3],[0.84,0.1],[1.0,0.15]];
const gradFit1: Pt[] = [[0.35,0.33],[0.7,0.42],[1.1,0.47],[1.5,0.44],[1.95,0.36]];
const gradFit2: Pt[] = [[0.42,0.58],[1.2,0.5],[2.42,0.35]];
const gradFit3: Pt[] = [[0.38,0.79],[1,0.55],[1.5,0.42],[2,0.33],[2.5,0.26],[3,0.2],[3.6,0.14]];
const gradFit4: Pt[] = [[0.5,0.54],[1.2,0.53],[2.27,0.51]];
const gradFit5: Pt[] = [[0.45,0.55],[1.2,0.53],[2.2,0.45]];
const gradFit6: Pt[] = [[0.42,0.6],[1.2,0.57],[1.8,0.48],[2.4,0.38]];

const toXY = (p: Pt[]) => p.map(([x, y]) => ({ x, y }));

interface PanelDef {
  title: string;
  titleX: number;
  left: number;
  top: number;
  height: number;
  margin: { top: number; right: number; bottom: number; left: number };
  xDomain: [number, number];
  yDomain: [number, number];
  xTicks: number[];
  xFmt: (v: number) => string;
  points: Pt[][];
  fits: Pt[][];
}

const panels: PanelDef[] = [
  {
    title: 'LGE (normalized SI)', titleX: 215, left: 0, top: 0, height: 265,
    margin: { top: 32, right: 4, bottom: 0, left: 15 },
    xDomain: [-2.48, 17.2], yDomain: [-0.07, 2.77], xTicks: lgeTicks, xFmt: (v) => String(v),
    points: [
      [...lgeDense1, ...lgeBand1, ...lge1], [...lgeDense2, ...lgeBand2, ...lge2], [...lgeDense3, ...lgeBand3, ...lge3],
      [...lgeDense4, ...lgeBand4, ...lge4], [...lgeDense5, ...lgeBand5, ...lge5], [...lgeDense6, ...lgeBand6, ...lge6],
    ],
    fits: [lgeFit1, lgeFit2, lgeFit3, lgeFit4, lgeFit5, lgeFit6],
  },
  {
    title: 'Wall Thickness (mm)', titleX: 617, left: 400, top: 0, height: 265,
    margin: { top: 30, right: 6, bottom: 0, left: 17 },
    xDomain: [0.88, 13.55], yDomain: [-0.09, 2.78], xTicks: wtTicks, xFmt: (v) => v.toFixed(1),
    points: [
      [...wtDense1, ...wtBand1, ...wt1], [...wtDense2, ...wtBand2, ...wt2], [...wtDense3, ...wtBand3, ...wt3],
      [...wtDense4, ...wtBand4, ...wt4], [...wtDense5, ...wtBand5, ...wt5], [...wtDense6, ...wtBand6, ...wt6],
    ],
    fits: [wtFit1, wtFit2, wtFit3, wtFit4, wtFit5, wtFit6],
  },
  {
    title: 'LGE Heterogeneity (normalized SI)', titleX: 222, left: 0, top: 270, height: 266,
    margin: { top: 33, right: 5, bottom: 0, left: 15 },
    xDomain: [-0.116, 4.81], yDomain: [-0.053, 2.776], xTicks: hetTicks, xFmt: (v) => String(v),
    points: [
      [...hetDense1, ...hetBand1, ...het1], [...hetDense2, ...hetBand2, ...het2], [...hetDense3, ...hetBand3, ...het3],
      [...hetDense4, ...hetBand4, ...het4], [...hetDense5, ...hetBand5, ...het5], [...hetDense6, ...hetBand6, ...het6],
    ],
    fits: [hetFit1, hetFit2, hetFit3, hetFit4, hetFit5, hetFit6],
  },
  {
    title: 'Wall Thickness Gradient (mm)', titleX: 624, left: 400, top: 270, height: 266,
    margin: { top: 32, right: 5, bottom: 0, left: 15 },
    xDomain: [-0.09, 3.743], yDomain: [-0.066, 2.776], xTicks: gradTicks, xFmt: (v) => String(v),
    points: [
      [...gradDense1, ...gradBand1, ...grad1], [...gradDense2, ...gradBand2, ...grad2], [...gradDense3, ...gradBand3, ...grad3],
      [...gradDense4, ...gradBand4, ...grad4], [...gradDense5, ...gradBand5, ...grad5], [...gradDense6, ...gradBand6, ...grad6],
    ],
    fits: [gradFit1, gradFit2, gradFit3, gradFit4, gradFit5, gradFit6],
  },
];

const FONT = '"Liberation Sans", Arial, sans-serif';
const tickStyle = { fontSize: 8, fill: '#333', fontFamily: FONT };

const Panel: React.FC<{ p: PanelDef }> = ({ p }) => (
  <div style={{ position: 'absolute', left: p.left, top: p.top }}>
    <ComposedChart width={400} height={p.height} margin={p.margin}>
      <XAxis
        type="number" dataKey="x" domain={p.xDomain} ticks={p.xTicks} allowDataOverflow
        tickFormatter={p.xFmt} tick={tickStyle} height={18} tickSize={4}
        axisLine={false} tickLine={{ stroke: '#888' }}
      />
      <YAxis
        type="number" dataKey="y" domain={p.yDomain} ticks={yTicks} allowDataOverflow
        tickFormatter={(v: number) => v.toFixed(1)} tick={tickStyle} width={40} tickSize={4}
        axisLine={false} tickLine={{ stroke: '#888' }}
      />
      {p.points.map((pts, i) => (
        <Scatter
          key={`pts-${i}`}
          name={animals[i]}
          data={toXY(pts)}
          isAnimationActive={false}
          shape={(s: any) => (
            <circle cx={s.cx} cy={s.cy} r={3.2} fill="none" stroke={COLORS[i]} strokeWidth={1} strokeOpacity={0.8} />
          )}
        />
      ))}
      {p.fits.map((pts, i) => (
        <Scatter
          key={`fit-${i}`}
          data={toXY(pts)}
          isAnimationActive={false}
          line={{ stroke: COLORS[i], strokeWidth: 2 }}
          lineJointType="monotoneX"
          shape={() => <g />}
        />
      ))}
      <ReferenceArea
        x1={p.xDomain[0]} x2={p.xDomain[1]} y1={p.yDomain[0]} y2={p.yDomain[1]}
        fill="none" stroke="#999" strokeWidth={1.5} ifOverflow="visible"
      />
    </ComposedChart>
    <div
      style={{
        position: 'absolute', left: p.titleX - p.left - 200, top: 1, width: 400, textAlign: 'center',
        fontFamily: FONT, fontWeight: 'bold', fontSize: 20, color: '#000', whiteSpace: 'nowrap',
      }}
    >
      {p.title}
    </div>
  </div>
);

const LegendBox: React.FC<{ left: number; width: number }> = ({ left, width }) => (
  <div
    style={{
      position: 'absolute', left, top: 545, width, height: 14, border: '1.5px solid #999',
      boxSizing: 'border-box', display: 'flex', alignItems: 'center', paddingLeft: 4,
      fontFamily: FONT, fontSize: 11, color: '#000',
    }}
  >
    {animals.map((a, i) => (
      <div key={a} style={{ display: 'flex', alignItems: 'center', width: width / 6 - 1 }}>
        <svg width={40} height={10}>
          <line x1={1} y1={5} x2={39} y2={5} stroke={COLORS[i]} strokeWidth={2} />
          <circle cx={20} cy={5} r={3} fill="#fff" stroke={COLORS[i]} strokeWidth={1} />
        </svg>
        <span style={{ marginLeft: 5 }}>{a}</span>
      </div>
    ))}
  </div>
);

const vLabel = (top: number) => (
  <div
    style={{
      position: 'absolute', left: 14 - 60, top: top - 12, width: 120, height: 24, textAlign: 'center',
      transform: 'rotate(-90deg)', fontFamily: FONT, fontWeight: 'bold', fontSize: 21, lineHeight: '24px',
    }}
  >
    CV (m/s)
  </div>
);

export default function App() {
  return (
    <div style={{ position: 'absolute', left: 0, top: 0, width: 800, height: 585, background: '#fff', overflow: 'hidden' }}>
      {panels.map((p) => (
        <Panel key={p.title} p={p} />
      ))}
      {vLabel(143)}
      {vLabel(414)}
      <LegendBox left={55} width={334} />
      <LegendBox left={457} width={332} />
      <div style={{ position: 'absolute', left: 223 - 100, top: 565, width: 200, textAlign: 'center', fontFamily: FONT, fontWeight: 'bold', fontSize: 16 }}>
        Animal #
      </div>
      <div style={{ position: 'absolute', left: 625 - 100, top: 565, width: 200, textAlign: 'center', fontFamily: FONT, fontWeight: 'bold', fontSize: 16 }}>
        Animal #
      </div>
    </div>
  );
}
